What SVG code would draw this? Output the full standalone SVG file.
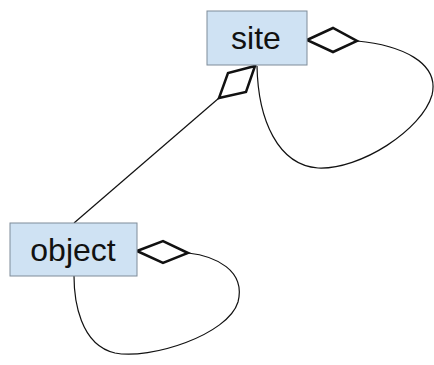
<svg xmlns="http://www.w3.org/2000/svg" width="434" height="365" viewBox="0 0 434 365">
<style>
.box{fill:#cfe2f3;stroke:#7f8c99;stroke-width:1}
.lbl{font-family:"Liberation Sans",Arial,sans-serif;font-size:32px;fill:#111;text-anchor:middle}
.edge{fill:none;stroke:#111;stroke-width:1.2}
.dia{fill:#fff;stroke:#111;stroke-width:2.5;stroke-linejoin:miter}
</style>
<rect width="434" height="365" fill="#fff"/>
<g id="connectors">
<path class="edge" d="M74,223 L219,98"/>
<path class="edge" d="M357,41 C400,45 440,62 432,95 C422,130 360,170 318,168 C278,165 258,120 257,66"/>
<path class="edge" d="M188,253 C215,256 246,270 238,302 C228,335 150,360 115,353 C80,345 74,300 74,276"/>
<polygon class="dia" points="255,66 228,73 219,98 246,92"/>
<polygon class="dia" points="307,40 333,28 357,41 333,52"/>
<polygon class="dia" points="137,251 163,241 188,253 163,263"/>
</g>
<g id="site">
<rect class="box" x="207" y="11" width="100" height="54"/>
<text class="lbl" x="256" y="49">site</text>
</g>
<g id="object">
<rect class="box" x="10" y="223" width="127" height="53"/>
<text class="lbl" x="73" y="261">object</text>
</g>
</svg>
